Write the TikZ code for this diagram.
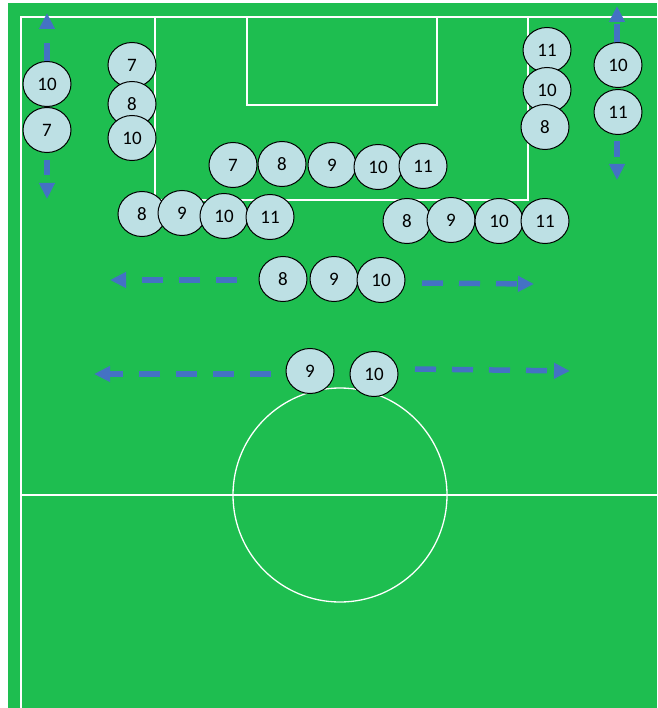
\documentclass[tikz,border=0pt]{standalone}
\usepackage{fontspec}
\setmainfont{Carlito}
\usetikzlibrary{arrows.meta,shapes.geometric}
\definecolor{pitch}{RGB}{30,190,80}
\definecolor{shirt}{RGB}{189,224,228}
\definecolor{runblue}{RGB}{68,114,196}
\begin{document}
\begin{tikzpicture}[x=1pt, y=-1pt,
    player/.style={ellipse, draw=black, line width=1pt, fill=shirt, minimum width=48pt, minimum height=45pt, inner sep=0pt, font=\fontsize{19}{21}\selectfont},
    run/.style={runblue, line width=5.5pt, dash pattern=on 21pt off 16pt, -{Triangle[length=16pt, width=15pt]}},
    pitchline/.style={white, line width=1.3pt}]
    \useasboundingbox (0,0) rectangle (657,708);
    \fill[pitch] (8,3) rectangle (657,708);
    % Pitch markings
    \draw[pitchline] (21,708) -- (21,17) -- (657,17);
    \draw[pitchline] (21,495) -- (657,495);
    \draw[pitchline] (155,17) rectangle (528,200);
    \draw[pitchline] (247,17) rectangle (437,105);
    \draw[pitchline] (340,495) circle[radius=107];
    % Runs
    \coordinate (luA) at (47,64);   \coordinate (luB) at (47,13);
    \coordinate (ldA) at (47,160);  \coordinate (ldB) at (47,199);
    \coordinate (ruA) at (617,45);  \coordinate (ruB) at (617,6);
    \coordinate (rdA) at (617,141); \coordinate (rdB) at (617,180);
    \coordinate (mlA) at (237,280); \coordinate (mlB) at (110,280);
    \coordinate (mrA) at (422,283); \coordinate (mrB) at (534,284);
    \coordinate (blA) at (271,374); \coordinate (blB) at (94,374);
    \coordinate (brA) at (415,369); \coordinate (brB) at (570,371);
    \draw[run] (luA) -- (luB);
    \draw[run, dash phase=6pt] (ldA) -- (ldB);
    \draw[run] (ruA) -- (ruB);
    \draw[run, dash phase=5pt] (rdA) -- (rdB);
    \draw[run] (mlA) -- (mlB);
    \draw[run] (mrA) -- (mrB);
    \draw[run] (blA) -- (blB);
    \draw[run] (brA) -- (brB);
    % Players
    \foreach \n/\x/\y in {10/47/84, 7/47/130}
        \node[player] (lw\n) at (\x,\y) {\n};
    \foreach \n/\x/\y in {7/132/65, 8/132/104, 10/132/138}
        \node[player] (lc\n) at (\x,\y) {\n};
    \foreach \n/\x/\y in {11/547/50, 10/547/90, 8/545/127}
        \node[player] (rc\n) at (\x,\y) {\n};
    \foreach \n/\x/\y in {10/618/65, 11/618/112}
        \node[player] (rw\n) at (\x,\y) {\n};
    \foreach \n/\x/\y in {7/233/165, 8/282/164, 9/332/165, 10/378/167, 11/423/166}
        \node[player] (fa\n) at (\x,\y) {\n};
    \foreach \n/\x/\y in {8/142/214, 9/182/213, 10/224/216, 11/270/217}
        \node[player] (fl\n) at (\x,\y) {\n};
    \foreach \n/\x/\y in {8/407/221, 9/451/220, 10/499/221, 11/545/221}
        \node[player] (fr\n) at (\x,\y) {\n};
    \foreach \n/\x/\y in {8/283/279, 9/334/279, 10/381/280}
        \node[player] (md\n) at (\x,\y) {\n};
    \foreach \n/\x/\y in {9/310/371, 10/374/374}
        \node[player] (dp\n) at (\x,\y) {\n};
\end{tikzpicture}
\end{document}
